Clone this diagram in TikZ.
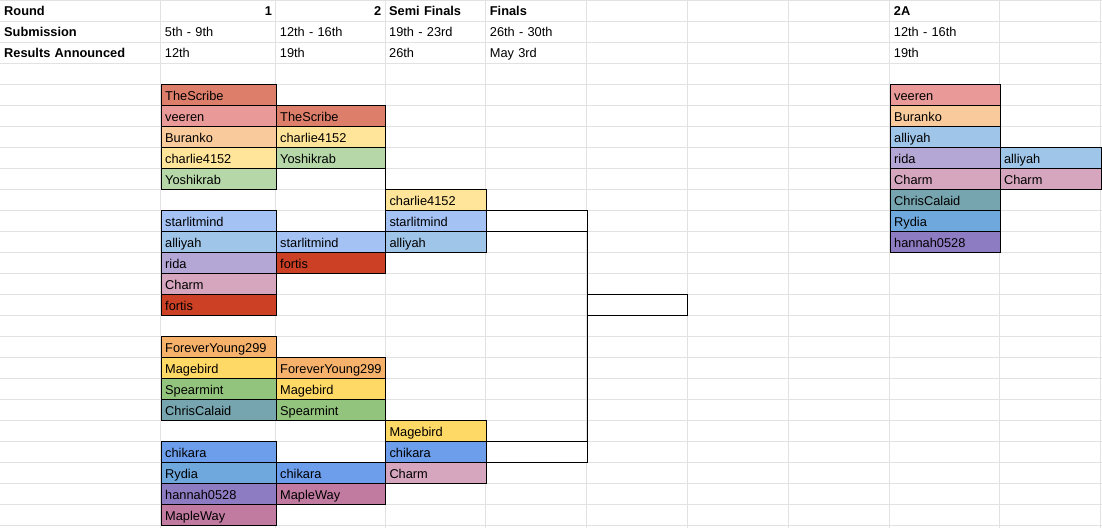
\documentclass[tikz,border=0pt]{standalone}
\usepackage{fontspec}
\setmainfont{Liberation Sans}
\definecolor{gridgray}{HTML}{E2E2E2}
\definecolor{cScribe}{HTML}{DD7E6B}
\definecolor{cVeeren}{HTML}{EA9999}
\definecolor{cBuranko}{HTML}{F9CB9C}
\definecolor{cCharlie}{HTML}{FFE599}
\definecolor{cYoshi}{HTML}{B6D7A8}
\definecolor{cStarlit}{HTML}{A4C2F4}
\definecolor{cAlliyah}{HTML}{9FC5E8}
\definecolor{cRida}{HTML}{B4A7D6}
\definecolor{cCharm}{HTML}{D5A6BD}
\definecolor{cFortis}{HTML}{CC4125}
\definecolor{cForever}{HTML}{F6B26B}
\definecolor{cMage}{HTML}{FFD966}
\definecolor{cSpear}{HTML}{93C47D}
\definecolor{cChris}{HTML}{76A5AF}
\definecolor{cChikara}{HTML}{6D9EEB}
\definecolor{cRydia}{HTML}{6FA8DC}
\definecolor{cHannah}{HTML}{8E7CC3}
\definecolor{cMaple}{HTML}{C27BA0}
% column left edges and widths
\def\xA{0}\def\wA{160.7}
\def\xB{160.7}\def\wB{115}
\def\xC{275.7}\def\wC{109.3}
\def\xD{385}\def\wD{100.7}
\def\xE{485.7}\def\wE{100.8}
\def\xF{586.5}\def\wF{100.7}
\def\xI{889.7}\def\wI{109.8}
\def\xJ{999.5}\def\wJ{101}
% \sheetcell{name}{col}{row}{style}{text}
\newcommand{\sheetcell}[5]{%
  \node[#4, text width=\dimexpr\csname w#2\endcsname pt-8pt\relax]
    (#1) at (\csname x#2\endcsname, {21*(#3-1)}) {#5};}
\begin{document}
\begin{tikzpicture}[x=1pt,y=-1pt,
  grid/.style={draw=gridgray, line width=1pt},
  plaincell/.style={anchor=north west, inner xsep=4pt, inner ysep=0pt,
    minimum height=21pt, text height=12pt, text depth=1.6pt, align=left,
    font=\fontsize{12.8}{14}\selectfont},
  headcell/.style={plaincell, font=\fontsize{12.8}{14}\selectfont\bfseries},
  numcell/.style={headcell, align=right},
  namecell/.style={plaincell, draw=black, line width=1pt, fill=#1},
  bracket/.style={draw=black, line width=1pt}]
\useasboundingbox (0,0) rectangle (1102,528);
% spreadsheet grid
\foreach \r in {1,...,25} \draw[grid] (0,{21*\r}) -- (1102,{21*\r});
\draw[grid] (0,0.5) -- (1102,0.5);
\foreach \c in {160.7,275.7,385,485.7,586.5,687.2,788.3,889.7,999.5,1100.5}
  \draw[grid] (\c,0) -- (\c,528);
% header rows
\sheetcell{a1}{A}{1}{headcell}{Round}
\sheetcell{b1}{B}{1}{numcell}{1}
\sheetcell{c1}{C}{1}{numcell}{2}
\sheetcell{d1}{D}{1}{headcell}{Semi Finals}
\sheetcell{e1}{E}{1}{headcell}{Finals}
\sheetcell{i1}{I}{1}{headcell}{2A}
\sheetcell{a2}{A}{2}{headcell}{Submission}
\sheetcell{b2}{B}{2}{plaincell}{5th - 9th}
\sheetcell{c2}{C}{2}{plaincell}{12th - 16th}
\sheetcell{d2}{D}{2}{plaincell}{19th - 23rd}
\sheetcell{e2}{E}{2}{plaincell}{26th - 30th}
\sheetcell{i2}{I}{2}{plaincell}{12th - 16th}
\sheetcell{a3}{A}{3}{headcell}{Results Announced}
\sheetcell{b3}{B}{3}{plaincell}{12th}
\sheetcell{c3}{C}{3}{plaincell}{19th}
\sheetcell{d3}{D}{3}{plaincell}{26th}
\sheetcell{e3}{E}{3}{plaincell}{May 3rd}
\sheetcell{i3}{I}{3}{plaincell}{19th}
% round 1
\sheetcell{b5}{B}{5}{namecell=cScribe}{TheScribe}
\sheetcell{b6}{B}{6}{namecell=cVeeren}{veeren}
\sheetcell{b7}{B}{7}{namecell=cBuranko}{Buranko}
\sheetcell{b8}{B}{8}{namecell=cCharlie}{charlie4152}
\sheetcell{b9}{B}{9}{namecell=cYoshi}{Yoshikrab}
\sheetcell{b11}{B}{11}{namecell=cStarlit}{starlitmind}
\sheetcell{b12}{B}{12}{namecell=cAlliyah}{alliyah}
\sheetcell{b13}{B}{13}{namecell=cRida}{rida}
\sheetcell{b14}{B}{14}{namecell=cCharm}{Charm}
\sheetcell{b15}{B}{15}{namecell=cFortis}{fortis}
\sheetcell{b17}{B}{17}{namecell=cForever}{ForeverYoung299}
\sheetcell{b18}{B}{18}{namecell=cMage}{Magebird}
\sheetcell{b19}{B}{19}{namecell=cSpear}{Spearmint}
\sheetcell{b20}{B}{20}{namecell=cChris}{ChrisCalaid}
\sheetcell{b22}{B}{22}{namecell=cChikara}{chikara}
\sheetcell{b23}{B}{23}{namecell=cRydia}{Rydia}
\sheetcell{b24}{B}{24}{namecell=cHannah}{hannah0528}
\sheetcell{b25}{B}{25}{namecell=cMaple}{MapleWay}
% round 2
\sheetcell{c6}{C}{6}{namecell=cScribe}{TheScribe}
\sheetcell{c7}{C}{7}{namecell=cCharlie}{charlie4152}
\sheetcell{c8}{C}{8}{namecell=cYoshi}{Yoshikrab}
\sheetcell{c12}{C}{12}{namecell=cStarlit}{starlitmind}
\sheetcell{c13}{C}{13}{namecell=cFortis}{fortis}
\sheetcell{c18}{C}{18}{namecell=cForever}{ForeverYoung299}
\sheetcell{c19}{C}{19}{namecell=cMage}{Magebird}
\sheetcell{c20}{C}{20}{namecell=cSpear}{Spearmint}
\sheetcell{c23}{C}{23}{namecell=cChikara}{chikara}
\sheetcell{c24}{C}{24}{namecell=cMaple}{MapleWay}
% semi finals
\sheetcell{d10}{D}{10}{namecell=cCharlie}{charlie4152}
\sheetcell{d11}{D}{11}{namecell=cStarlit}{starlitmind}
\sheetcell{d12}{D}{12}{namecell=cAlliyah}{alliyah}
\sheetcell{d21}{D}{21}{namecell=cMage}{Magebird}
\sheetcell{d22}{D}{22}{namecell=cChikara}{chikara}
\sheetcell{d23}{D}{23}{namecell=cCharm}{Charm}
% finals bracket
\sheetcell{e11}{E}{11}{namecell=white}{}
\sheetcell{e22}{E}{22}{namecell=white}{}
\sheetcell{f15}{F}{15}{namecell=white}{}
\draw[bracket] (e11.south east) -- (e22.north east);
\draw[bracket] (d10.north west |- c8.south) -- (d10.north west);
% round 2A
\sheetcell{i5}{I}{5}{namecell=cVeeren}{veeren}
\sheetcell{i6}{I}{6}{namecell=cBuranko}{Buranko}
\sheetcell{i7}{I}{7}{namecell=cAlliyah}{alliyah}
\sheetcell{i8}{I}{8}{namecell=cRida}{rida}
\sheetcell{i9}{I}{9}{namecell=cCharm}{Charm}
\sheetcell{i10}{I}{10}{namecell=cChris}{ChrisCalaid}
\sheetcell{i11}{I}{11}{namecell=cRydia}{Rydia}
\sheetcell{i12}{I}{12}{namecell=cHannah}{hannah0528}
\sheetcell{j8}{J}{8}{namecell=cAlliyah}{alliyah}
\sheetcell{j9}{J}{9}{namecell=cCharm}{Charm}
\end{tikzpicture}
\end{document}
